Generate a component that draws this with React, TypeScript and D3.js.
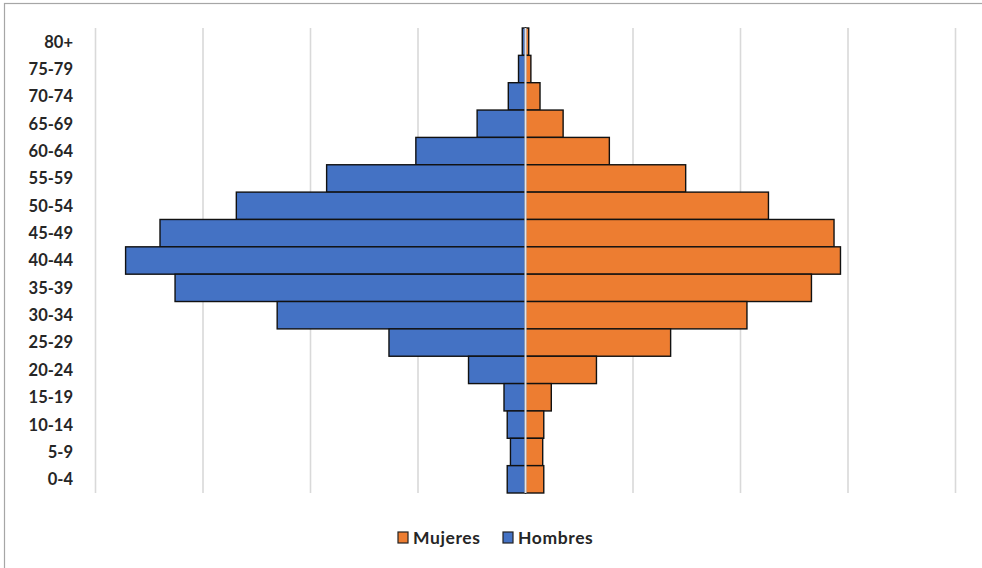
import React from "react";
import * as d3 from "d3";

// Age groups, youngest at the bottom
const ageGroups = [
  "80+", "75-79", "70-74", "65-69", "60-64", "55-59", "50-54", "45-49",
  "40-44", "35-39", "30-34", "25-29", "20-24", "15-19", "10-14", "5-9", "0-4",
];

// Population per age group (same order as ageGroups)
const hombres = [3, 6.5, 16, 45, 102, 185, 269, 340, 372, 326, 231, 127, 53, 20, 17, 14, 17];
const mujeres = [3, 5, 13.5, 35, 78, 149, 226, 287, 293, 266, 206, 135, 66, 24, 17, 16, 17];

const gridTicks = [-400, -300, -200, -100, 0, 100, 200, 300, 400];

const legendItems = [
  { label: "Mujeres", color: "#ED7D31" },
  { label: "Hombres", color: "#4472C4" },
];

const W = 982;
const H = 568;
const FONT = "Lato, 'Open Sans', 'DejaVu Sans', sans-serif";

export default function App() {
  const x = d3.scaleLinear().domain([-400, 400]).range([95.5, 955.5]);
  const y = d3.scaleBand<string>().domain(ageGroups).range([28, 493]).padding(0);
  const bw = y.bandwidth();

  return (
    <svg
      width={W}
      height={H}
      style={{ position: "absolute", left: 0, top: 0, background: "#fff" }}
    >
      {/* chart frame */}
      <rect x={4.5} y={3.5} width={W + 10} height={H + 10} fill="#fff" stroke="#a6a6a6" strokeWidth={1.2} />

      {/* vertical gridlines */}
      {gridTicks.filter((t) => t !== 0).map((t) => (
        <line key={t} x1={x(t)} x2={x(t)} y1={28} y2={493} stroke="#d9d9d9" strokeWidth={1.6} />
      ))}

      {/* Hombres to the left */}
      {ageGroups.map((g, i) => (
        <rect
          key={"h" + g}
          x={x(-hombres[i])}
          y={y(g)!}
          width={x(0) - x(-hombres[i])}
          height={bw}
          fill="#4472C4"
          stroke="#111"
          strokeWidth={1.4}
        />
      ))}

      {/* Mujeres to the right */}
      {ageGroups.map((g, i) => (
        <rect
          key={"m" + g}
          x={x(0)}
          y={y(g)!}
          width={x(mujeres[i]) - x(0)}
          height={bw}
          fill="#ED7D31"
          stroke="#111"
          strokeWidth={1.4}
        />
      ))}

      {/* central axis */}
      <line x1={x(0)} x2={x(0)} y1={28} y2={493} stroke="#dfe3ea" strokeWidth={2} />

      {/* age group labels */}
      {ageGroups.map((g) => (
        <text
          key={"l" + g}
          x={73}
          y={y(g)! + bw / 2}
          dy="0.36em"
          textAnchor="end"
          fontFamily={FONT}
          fontWeight="bold"
          fontSize={16.5}
          fill="#262626"
        >
          {g}
        </text>
      ))}

      {/* legend */}
      {legendItems.map((item, i) => {
        const lx = 398 + i * 105;
        return (
          <g key={item.label}>
            <rect x={lx} y={532} width={10} height={11} fill={item.color} stroke="#222" strokeWidth={1.2} />
            <text
              x={lx + 15}
              y={538}
              dy="0.36em"
              fontFamily={FONT}
              fontWeight="bold"
              fontSize={17.5}
              letterSpacing={0.6}
              fill="#262626"
            >
              {item.label}
            </text>
          </g>
        );
      })}
    </svg>
  );
}
